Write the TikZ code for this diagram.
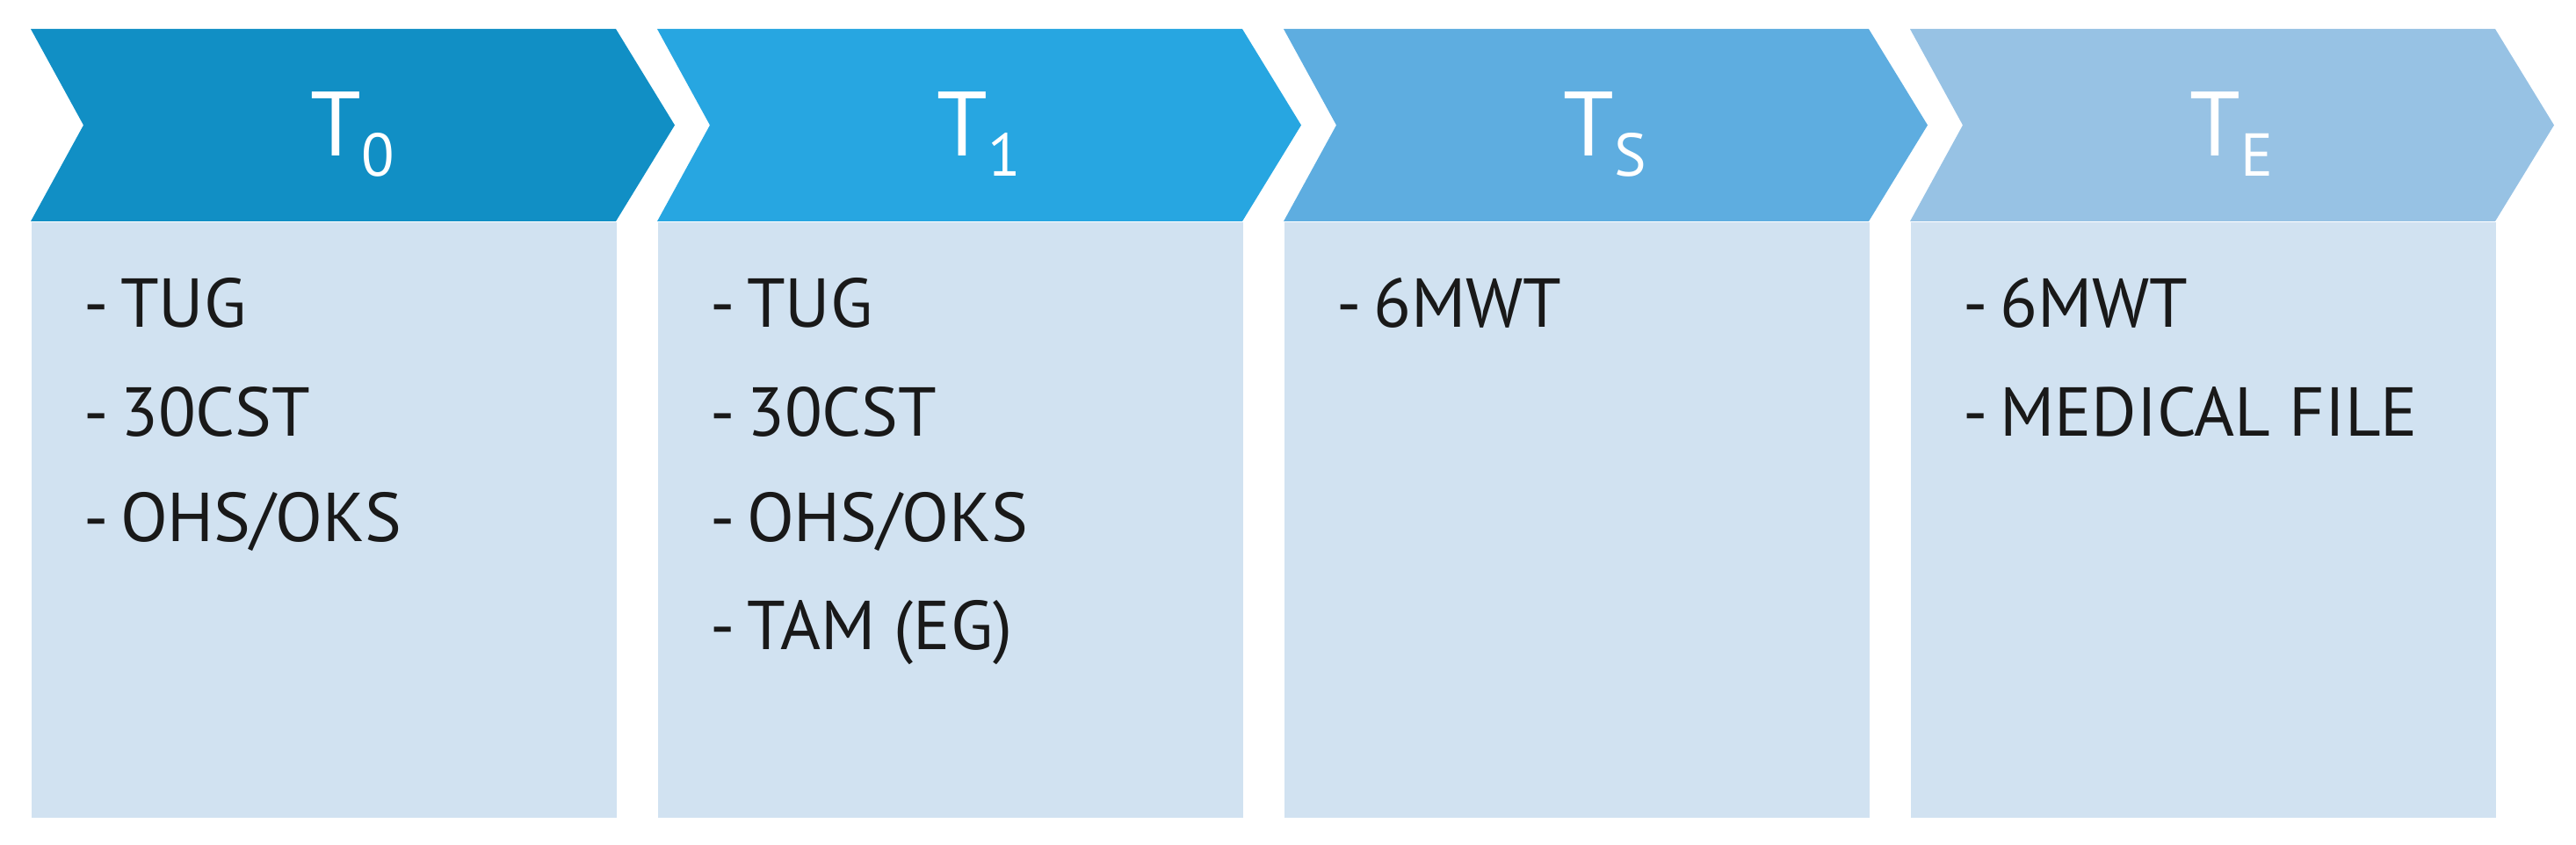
\documentclass[tikz,border=0pt]{standalone}
\usepackage{fontspec}
\setmainfont{PT Sans}
\definecolor{phasezero}{RGB}{17,143,197}
\definecolor{phaseone}{RGB}{39,166,225}
\definecolor{phasesurg}{RGB}{94,173,224}
\definecolor{phaseend}{RGB}{151,194,228}
\definecolor{boxfill}{RGB}{209,226,241}
\newcommand{\tpoint}[1]{T\raisebox{-6.3pt}{\fontsize{19.6}{20}\selectfont #1}}
\tikzset{
    stepbox/.style={rectangle, fill=boxfill, minimum width=6.66cm, minimum height=6.78cm, anchor=north west, inner sep=0pt},
    phase/.style={text=white, font=\fontsize{29.6}{30}\selectfont, anchor=base, inner sep=0pt},
    item/.style={font=\fontsize{22.4}{24}\selectfont, anchor=base west, inner sep=0pt, text=black!90},
}
\begin{document}
\begin{tikzpicture}
\useasboundingbox (0,0) rectangle (29.32,9.62);
% chevrons
\fill[phasezero] (0.35,9.29) -- (7.01,9.29) -- (7.68,8.195) -- (7.01,7.10) -- (0.35,7.10) -- (0.95,8.195) -- cycle;
\fill[phaseone] (7.48,9.29) -- (14.14,9.29) -- (14.81,8.195) -- (14.14,7.10) -- (7.48,7.10) -- (8.08,8.195) -- cycle;
\fill[phasesurg] (14.61,9.29) -- (21.27,9.29) -- (21.94,8.195) -- (21.27,7.10) -- (14.61,7.10) -- (15.21,8.195) -- cycle;
\fill[phaseend] (21.74,9.29) -- (28.40,9.29) -- (29.07,8.195) -- (28.40,7.10) -- (21.74,7.10) -- (22.34,8.195) -- cycle;
\node[phase] (h0) at (4.01,7.84) {\tpoint{0}};
\node[phase] (h1) at (11.14,7.84) {\tpoint{1}};
\node[phase] (hs) at (18.27,7.84) {\tpoint{S}};
\node[phase] (he) at (25.40,7.84) {\tpoint{E}};
% boxes
\node[stepbox] (b0) at (0.35,7.10) {};
\node[stepbox] (b1) at (7.48,7.10) {};
\node[stepbox] (bs) at (14.61,7.10) {};
\node[stepbox] (be) at (21.74,7.10) {};
% items
\node[item] (b0a) at (0.95,5.89) {-\,TUG};
\node[item] (b0b) at (0.95,4.65) {-\,30CST};
\node[item] (b0c) at (0.95,3.45) {-\,OHS/OKS};
\node[item] (b1a) at (8.08,5.89) {-\,TUG};
\node[item] (b1b) at (8.08,4.65) {-\,30CST};
\node[item] (b1c) at (8.08,3.45) {-\,OHS/OKS};
\node[item] (b1d) at (8.08,2.22) {-\,TAM (EG)};
\node[item] (bsa) at (15.21,5.89) {-\,6MWT};
\node[item] (bea) at (22.34,5.89) {-\,6MWT};
\node[item] (beb) at (22.34,4.65) {-\,MEDICAL FILE};
\end{tikzpicture}
\end{document}
